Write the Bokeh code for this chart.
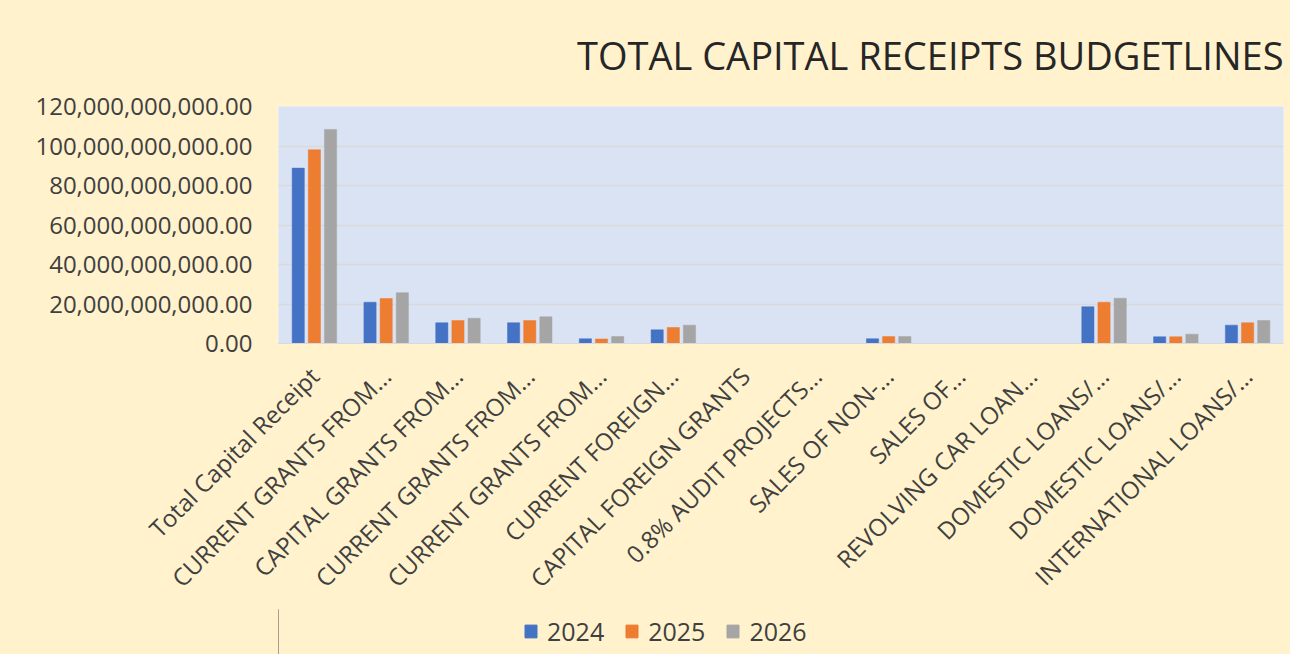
from bokeh.plotting import figure
from bokeh.layouts import column
from bokeh.models import (ColumnDataSource, FixedTicker, NumeralTickFormatter,
                          Legend, LegendItem, Range1d)
from bokeh.embed import file_html
from bokeh.resources import INLINE
import math

categories = [
    "Total Capital Receipt",
    "CURRENT GRANTS FROM...",
    "CAPITAL GRANTS FROM...",
    "CURRENT GRANTS FROM...",
    "CURRENT GRANTS FROM...",
    "CURRENT FOREIGN...",
    "CAPITAL FOREIGN GRANTS",
    "0.8% AUDIT PROJECTS...",
    "SALES OF NON-...",
    "SALES OF...",
    "REVOLVING CAR LOAN...",
    "DOMESTIC LOANS/...",
    "DOMESTIC LOANS/...",
    "INTERNATIONAL LOANS/...",
]
years = ["2024", "2025", "2026"]
v2024 = [88.8e9, 20.9e9, 10.5e9, 10.5e9, 2.4e9, 6.9e9, 0, 0, 2.4e9, 0, 0, 18.6e9, 3.4e9, 9.3e9]
v2025 = [98.1e9, 22.8e9, 11.6e9, 11.6e9, 2.3e9, 8.1e9, 0, 0, 3.5e9, 0, 0, 20.9e9, 3.4e9, 10.5e9]
v2026 = [108.4e9, 25.7e9, 12.8e9, 13.5e9, 3.5e9, 9.3e9, 0, 0, 3.5e9, 0, 0, 22.9e9, 4.7e9, 11.6e9]
y_ticks = [0, 20e9, 40e9, 60e9, 80e9, 100e9, 120e9]

colors = ["#4472C4", "#ED7D31", "#A5A5A5"]
series = [v2024, v2025, v2026]
offsets = [-0.225, 0.0, 0.225]

FONT = "Open Sans"
TEXT = "#404040"
BG = "#FFF2CC"

p = figure(width=1290, height=609, output_backend="svg", toolbar_location=None,
           x_range=Range1d(-0.5, len(categories) - 0.5), y_range=Range1d(0, 120e9),
           background_fill_color="#DAE3F3", border_fill_color=BG,
           min_border_left=278, min_border_right=7, min_border_top=106,
           min_border_bottom=266)
p.outline_line_color = "#E8ECF4"

idx = list(range(len(categories)))
for vals, col, off in zip(series, colors, offsets):
    src = ColumnDataSource(dict(x=[i + off for i in idx], top=vals))
    p.vbar(x="x", top="top", width=0.17, source=src, fill_color=col,
           line_color=col, line_width=0.5)

# title
p.title.text = "TOTAL CAPITAL RECEIPTS BUDGETLINES"
p.title.align = "right"
p.title.text_font = FONT
p.title.text_font_size = "38px"
p.title.text_font_style = "normal"
p.title.text_color = "#262626"
p.title.standoff = 52

# y axis
p.yaxis.ticker = FixedTicker(ticks=y_ticks)
p.yaxis.formatter = NumeralTickFormatter(format="0,0.00")
p.yaxis.major_label_text_font = FONT
p.yaxis.major_label_text_font_size = "24px"
p.yaxis.major_label_text_color = TEXT
p.yaxis.axis_line_color = None
p.yaxis.major_tick_line_color = None
p.yaxis.minor_tick_line_color = None
p.yaxis.major_label_standoff = 20

# x axis
p.xaxis.ticker = FixedTicker(ticks=idx)
p.xaxis.major_label_overrides = {i: c for i, c in enumerate(categories)}
p.xaxis.major_label_orientation = math.pi / 4
p.xaxis.major_label_text_font = FONT
p.xaxis.major_label_text_font_size = "24px"
p.xaxis.major_label_text_color = TEXT
p.xaxis.axis_line_color = "#D9D9D9"
p.xaxis.major_tick_line_color = None
p.xaxis.minor_tick_line_color = None
p.xaxis.major_label_standoff = 22

p.xgrid.grid_line_color = None
p.ygrid.grid_line_color = "#D9D9D9"
p.ygrid.grid_line_width = 1.5

# legend strip below the chart (transparent, the layout background shows through)
pl = figure(width=1290, height=45, output_backend="svg", toolbar_location=None,
            x_range=Range1d(0, 1), y_range=Range1d(0, 1),
            x_axis_location=None, y_axis_location=None,
            background_fill_alpha=0, border_fill_alpha=0, min_border=0)
pl.outline_line_color = None
pl.grid.visible = False
leg_renderers = []
for col in colors:
    # one off-screen point per swatch so that the legend glyph is drawn
    leg_renderers.append(pl.vbar(x=[-5], top=[1], width=0.1, fill_color=col, line_color=col))

legend = Legend(items=[LegendItem(label=y, renderers=[r]) for y, r in zip(years, leg_renderers)],
                orientation="horizontal", location=(245, 6),
                background_fill_alpha=0, border_line_color=None,
                label_text_font=FONT, label_text_font_size="25px",
                label_text_color=TEXT, glyph_width=15, glyph_height=16,
                spacing=20, label_standoff=9, padding=0, margin=0)
pl.add_layout(legend, "center")

layout = column(p, pl, spacing=0)
layout.styles = {"background-color": BG}
open("out.html", "w").write(file_html(layout, INLINE))
